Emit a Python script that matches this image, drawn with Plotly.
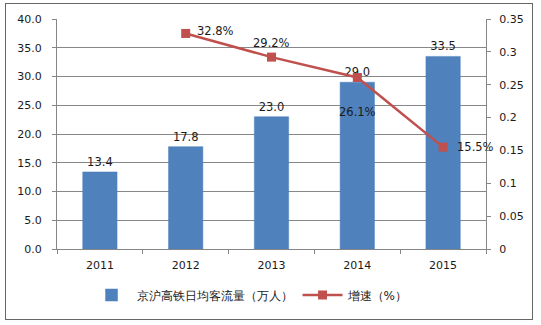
import plotly.graph_objects as go

years = ["2011", "2012", "2013", "2014", "2015"]
flow = [13.4, 17.8, 23.0, 29.0, 33.5]
growth_years = ["2012", "2013", "2014", "2015"]
growth = [0.328, 0.292, 0.261, 0.155]
growth_labels = ["32.8%", "29.2%", "26.1%", "15.5%"]
label_shift = [(30, 2), (0, 14), (0, -35), (32, 0)]
left_ticks = [0, 5, 10, 15, 20, 25, 30, 35, 40]
right_ticks = [0, 0.05, 0.1, 0.15, 0.2, 0.25, 0.3, 0.35]
right_tick_text = ["0", "0.05", "0.1", "0.15", "0.2", "0.25", "0.3", "0.35"]

FONT = "DejaVu Sans"
fig = go.Figure()
fig.add_trace(go.Bar(
    x=years, y=flow, name="京沪高铁日均客流量（万人）",
    marker=dict(color="#4F81BD", line=dict(color="#4A7EBB", width=0.5)),
    width=0.4,
    text=[f"{v:.1f}" for v in flow], textposition="outside",
    textfont=dict(size=11.5, color="#1a1a1a", family=FONT), cliponaxis=False,
))
fig.add_trace(go.Scatter(
    x=growth_years, y=growth, name="增速（%）", yaxis="y2",
    mode="lines+markers",
    line=dict(color="#C0504D", width=2.5),
    marker=dict(symbol="square", size=9, color="#C0504D"),
    cliponaxis=False,
))
annotations = []
for xv, yv, t, (dx, dy) in zip(growth_years, growth, growth_labels, label_shift):
    annotations.append(dict(x=years.index(xv), y=yv, xref="x", yref="y2", text=t,
                            showarrow=False, xshift=dx, yshift=dy,
                            font=dict(size=11.5, color="#1a1a1a", family=FONT)))
# outer frame of the chart
annotations.append(dict(x=0.5, y=0.5, xref="paper", yref="paper", xanchor="center",
                        yanchor="middle", text="\u00a0", showarrow=False,
                        width=526, height=315, bordercolor="#666666", borderwidth=1,
                        borderpad=0, xshift=(5 + 533) / 2 - (57 + 486) / 2,
                        yshift=(249 + 19) / 2 - (3 + 320) / 2))

fig.update_layout(
    width=541, height=325,
    margin=dict(l=57, r=55, t=19, b=76, autoexpand=False),
    paper_bgcolor="white", plot_bgcolor="white",
    font=dict(family=FONT, size=11, color="#1a1a1a"),
    showlegend=True,
    legend=dict(orientation="h", x=0.45, xanchor="center",
                y=-0.2, yanchor="middle",
                font=dict(size=12, family=FONT), itemwidth=40),
    bargap=0.6,
    annotations=annotations,
    xaxis=dict(type="category", range=[-0.5, 4.5], showline=True, linecolor="#868686",
               ticks="outside", tickson="boundaries", ticklen=4, tickcolor="#868686",
               showgrid=False, tickfont=dict(size=11), ticklabelstandoff=6, tickangle=0),
    yaxis=dict(range=[0, 40], tickvals=left_ticks, ticktext=[f"{v:.1f}" for v in left_ticks],
               showline=True, linecolor="#868686", ticks="outside", ticklen=4,
               tickcolor="#868686", gridcolor="#878787", gridwidth=1, zeroline=False,
               tickfont=dict(size=11), ticklabelstandoff=8),
    yaxis2=dict(range=[0, 0.35], overlaying="y", side="right", tickvals=right_ticks,
                ticktext=right_tick_text, showline=True, linecolor="#868686",
                ticks="outside", ticklen=4, tickcolor="#868686", showgrid=False,
                zeroline=False, tickfont=dict(size=11), ticklabelstandoff=6),
)
fig.write_html("out.html")
